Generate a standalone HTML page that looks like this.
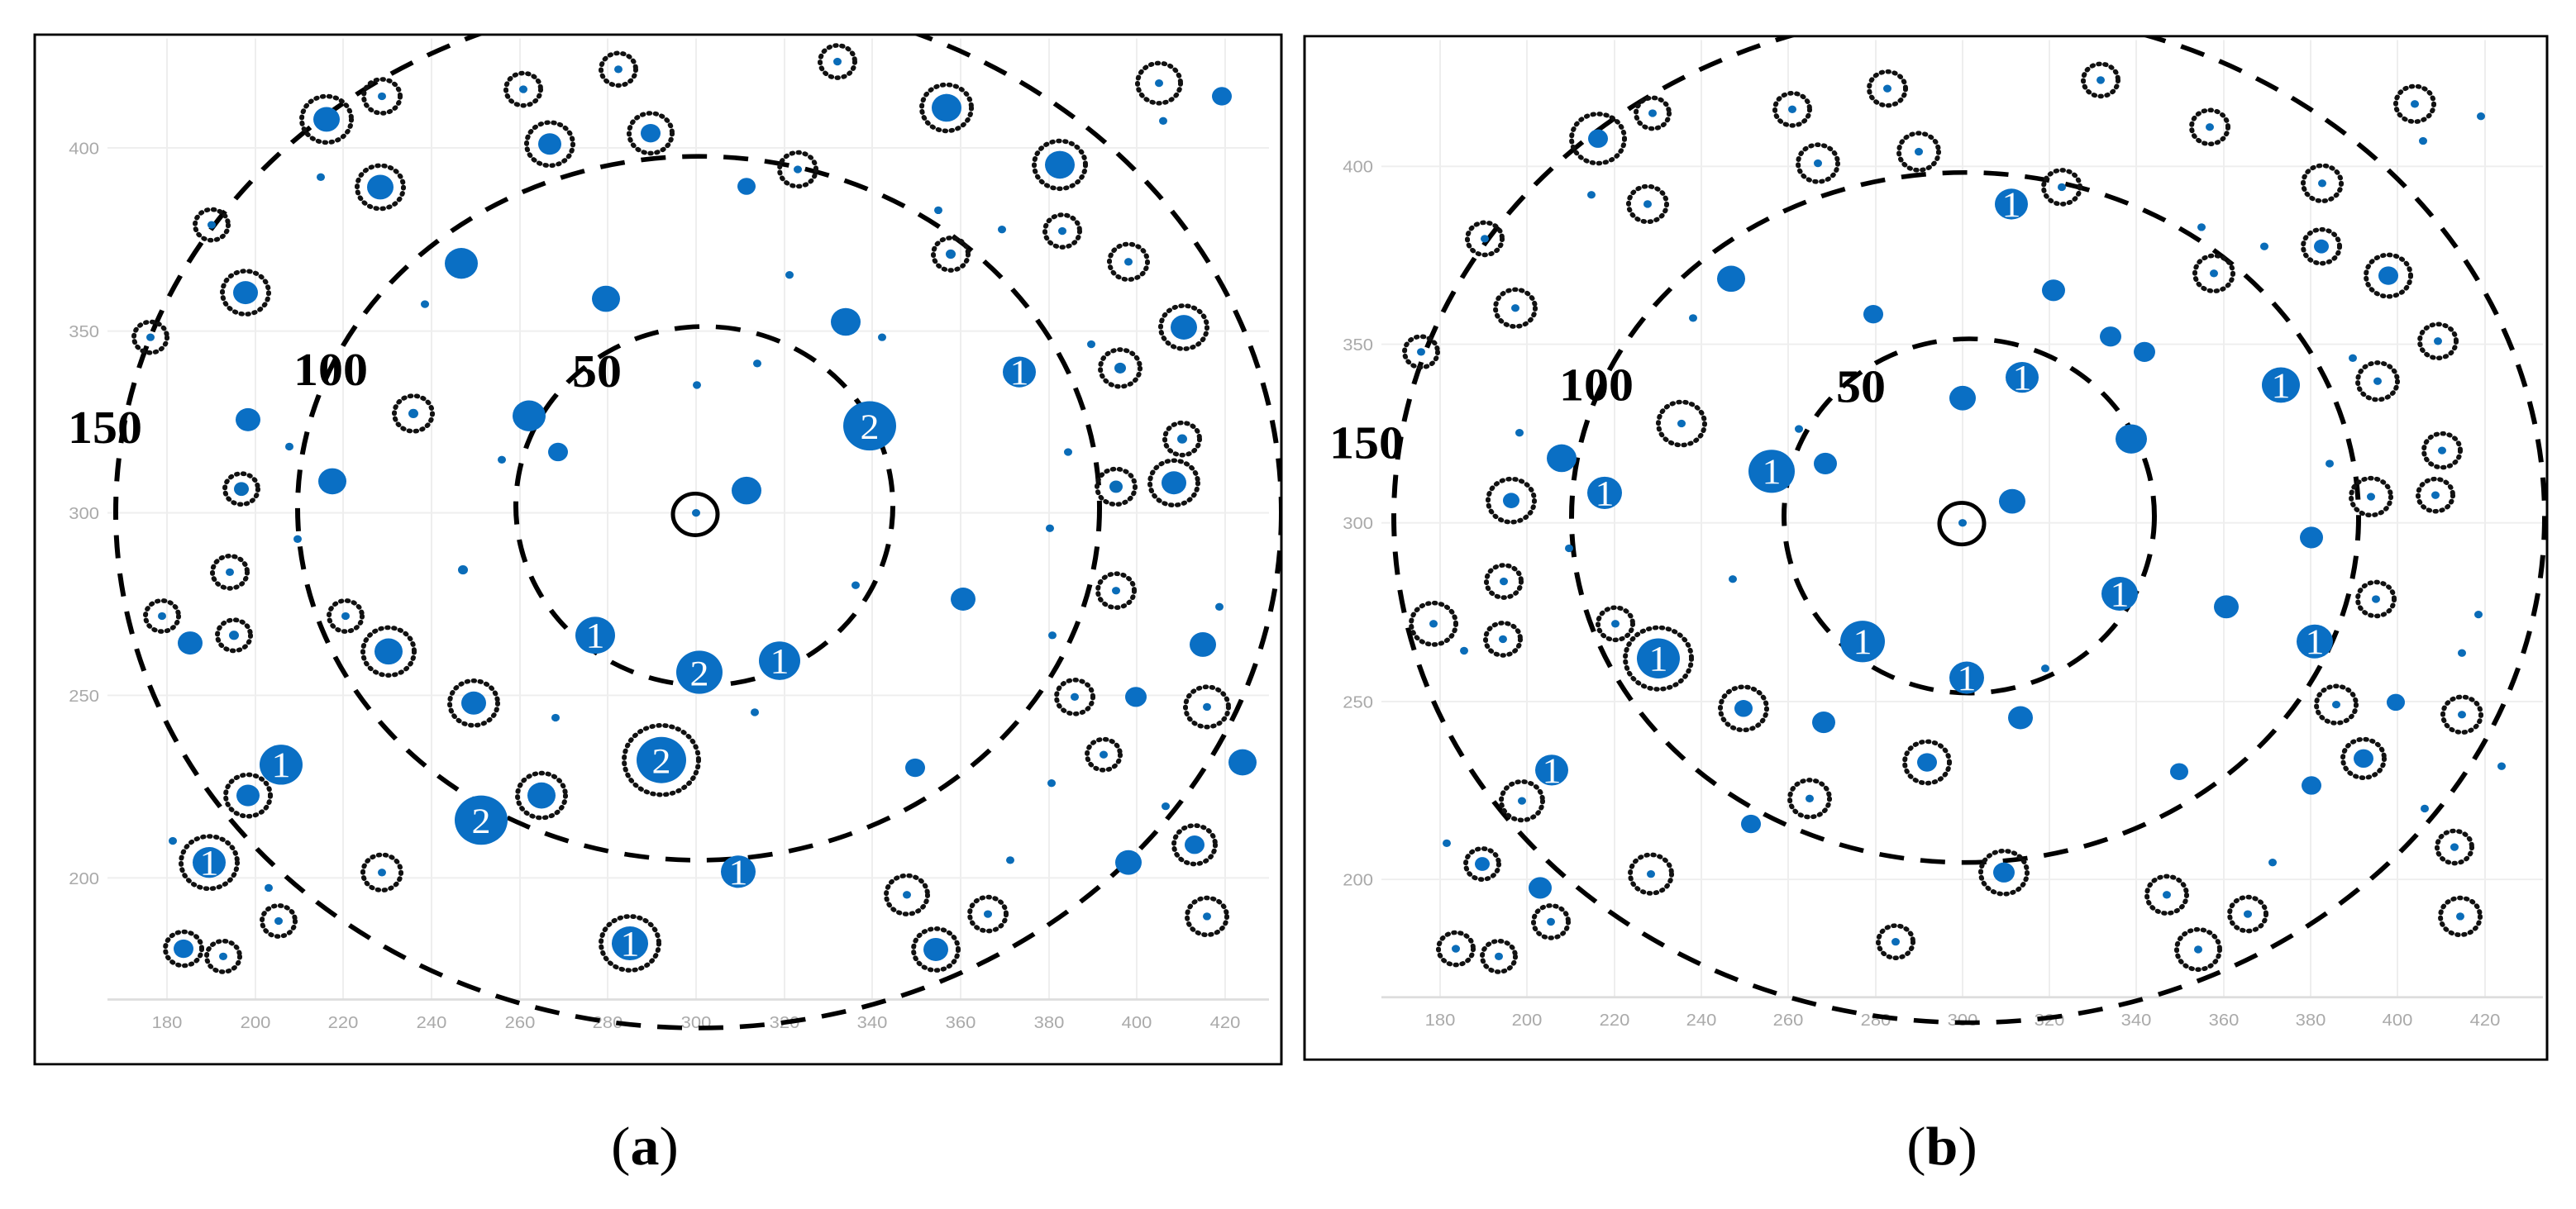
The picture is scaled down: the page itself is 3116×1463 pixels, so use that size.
<!DOCTYPE html>
<html><head><meta charset="utf-8"><style>
html,body{margin:0;padding:0;background:#fff;}
svg{position:absolute;top:0;}
.s{fill:#0a6cb8}
.m{fill:#0a6fc4}
.r{fill:none;stroke:#111;stroke-width:6;stroke-dasharray:1.5 6.5;stroke-linecap:round}
.dc{fill:none;stroke:#000;stroke-width:6;stroke-dasharray:30 20}
.n{font-family:"Liberation Serif",serif;font-size:46px;fill:#fff;text-anchor:middle}
.lab{font-family:"Liberation Serif",serif;font-weight:bold;font-size:60px;fill:#000}
.tk{font-family:"Liberation Sans",sans-serif;font-size:22px;fill:#aaa}
.g{stroke:#eee;stroke-width:2}
.cap{font-family:"Liberation Serif",serif;font-size:70px;fill:#000;text-anchor:middle}
</style></head><body>
<svg style="left:0" width="1560" height="1463" viewBox="0 0 1560 1570" preserveAspectRatio="none">
<defs><clipPath id="ca"><rect x="42" y="45" width="1508" height="1337"/></clipPath></defs>
<rect x="42" y="45" width="1508" height="1337" fill="#fff" stroke="#000" stroke-width="3"/>
<g class="g">
<line x1="202" y1="50" x2="202" y2="1298"/><line x1="309" y1="50" x2="309" y2="1298"/><line x1="415" y1="50" x2="415" y2="1298"/><line x1="522" y1="50" x2="522" y2="1298"/><line x1="629" y1="50" x2="629" y2="1298"/><line x1="735" y1="50" x2="735" y2="1298"/><line x1="842" y1="50" x2="842" y2="1298"/><line x1="949" y1="50" x2="949" y2="1298"/><line x1="1055" y1="50" x2="1055" y2="1298"/><line x1="1162" y1="50" x2="1162" y2="1298"/><line x1="1269" y1="50" x2="1269" y2="1298"/><line x1="1375" y1="50" x2="1375" y2="1298"/><line x1="1482" y1="50" x2="1482" y2="1298"/>
<line x1="130" y1="192" x2="1535" y2="192"/><line x1="130" y1="430" x2="1535" y2="430"/><line x1="130" y1="666" x2="1535" y2="666"/><line x1="130" y1="903" x2="1535" y2="903"/><line x1="130" y1="1140" x2="1535" y2="1140"/>
</g>
<line x1="130" y1="1298" x2="1535" y2="1298" stroke="#ddd" stroke-width="3"/>
<g class="tk" text-anchor="end"><text x="120" y="200">400</text><text x="120" y="438">350</text><text x="120" y="674">300</text><text x="120" y="911">250</text><text x="120" y="1148">200</text></g>
<g class="tk" text-anchor="middle"><text x="202" y="1335">180</text><text x="309" y="1335">200</text><text x="415" y="1335">220</text><text x="522" y="1335">240</text><text x="629" y="1335">260</text><text x="735" y="1335">280</text><text x="842" y="1335">300</text><text x="949" y="1335">320</text><text x="1055" y="1335">340</text><text x="1162" y="1335">360</text><text x="1269" y="1335">380</text><text x="1375" y="1335">400</text><text x="1482" y="1335">420</text></g>
<g clip-path="url(#ca)">
<ellipse class="dc" cx="852" cy="657" rx="228" ry="233"/>
<ellipse class="dc" cx="845" cy="660" rx="485" ry="457"/>
<ellipse class="dc" cx="845" cy="665" rx="705" ry="670"/>
</g>
<g>
<circle class="m" cx="395" cy="155" r="16"/><circle class="r" cx="395" cy="155" r="30"/>
<circle class="m" cx="460" cy="243" r="16"/><circle class="r" cx="460" cy="243" r="28"/>
<circle class="m" cx="297" cy="380" r="15"/><circle class="r" cx="297" cy="380" r="28"/>
<circle class="m" cx="665" cy="187" r="14"/><circle class="r" cx="665" cy="187" r="28"/>
<circle class="m" cx="787" cy="173" r="12"/><circle class="r" cx="787" cy="173" r="26"/>
<circle class="m" cx="1145" cy="140" r="18"/><circle class="r" cx="1145" cy="140" r="30"/>
<circle class="m" cx="1282" cy="214" r="18"/><circle class="r" cx="1282" cy="214" r="31"/>
<circle class="m" cx="1432" cy="425" r="16"/><circle class="r" cx="1432" cy="425" r="28"/>
<circle class="m" cx="1420" cy="627" r="15"/><circle class="r" cx="1420" cy="627" r="29"/>
<circle class="m" cx="470" cy="846" r="17"/><circle class="r" cx="470" cy="846" r="31"/>
<circle class="m" cx="573" cy="913" r="15"/><circle class="r" cx="573" cy="913" r="29"/>
<circle class="m" cx="655" cy="1033" r="17"/><circle class="r" cx="655" cy="1033" r="29"/>
<circle class="m" cx="300" cy="1033" r="14"/><circle class="r" cx="300" cy="1033" r="27"/>
<circle class="m" cx="1445" cy="1097" r="12"/><circle class="r" cx="1445" cy="1097" r="25"/>
<circle class="m" cx="1132" cy="1233" r="15"/><circle class="r" cx="1132" cy="1233" r="27"/>
<circle class="m" cx="222" cy="1232" r="12"/><circle class="r" cx="222" cy="1232" r="22"/>
</g>
<g>
<circle class="s" cx="462" cy="125" r="5"/><circle class="r" cx="462" cy="125" r="22"/>
<circle class="s" cx="633" cy="116" r="5"/><circle class="r" cx="633" cy="116" r="21"/>
<circle class="s" cx="748" cy="90" r="5"/><circle class="r" cx="748" cy="90" r="21"/>
<circle class="s" cx="1013" cy="80" r="5"/><circle class="r" cx="1013" cy="80" r="21"/>
<circle class="s" cx="1402" cy="108" r="5"/><circle class="r" cx="1402" cy="108" r="26"/>
<circle class="s" cx="256" cy="292" r="5"/><circle class="r" cx="256" cy="292" r="20"/>
<circle class="s" cx="182" cy="438" r="5"/><circle class="r" cx="182" cy="438" r="20"/>
<circle class="s" cx="965" cy="220" r="5"/><circle class="r" cx="965" cy="220" r="22"/>
<circle class="s" cx="1150" cy="330" r="6"/><circle class="r" cx="1150" cy="330" r="21"/>
<circle class="s" cx="1285" cy="300" r="5"/><circle class="r" cx="1285" cy="300" r="21"/>
<circle class="s" cx="1365" cy="340" r="5"/><circle class="r" cx="1365" cy="340" r="23"/>
<circle class="s" cx="1355" cy="478" r="7"/><circle class="r" cx="1355" cy="478" r="24"/>
<circle class="s" cx="1430" cy="570" r="6"/><circle class="r" cx="1430" cy="570" r="21"/>
<circle class="s" cx="1350" cy="632" r="8"/><circle class="r" cx="1350" cy="632" r="23"/>
<circle class="s" cx="500" cy="537" r="6"/><circle class="r" cx="500" cy="537" r="23"/>
<circle class="s" cx="292" cy="635" r="9"/><circle class="r" cx="292" cy="635" r="20"/>
<circle class="s" cx="278" cy="743" r="5"/><circle class="r" cx="278" cy="743" r="21"/>
<circle class="s" cx="196" cy="800" r="5"/><circle class="r" cx="196" cy="800" r="20"/>
<circle class="s" cx="418" cy="800" r="5"/><circle class="r" cx="418" cy="800" r="20"/>
<circle class="s" cx="283" cy="825" r="6"/><circle class="r" cx="283" cy="825" r="20"/>
<circle class="s" cx="1350" cy="767" r="5"/><circle class="r" cx="1350" cy="767" r="22"/>
<circle class="s" cx="1300" cy="905" r="5"/><circle class="r" cx="1300" cy="905" r="22"/>
<circle class="s" cx="1460" cy="918" r="5"/><circle class="r" cx="1460" cy="918" r="26"/>
<circle class="s" cx="1335" cy="980" r="5"/><circle class="r" cx="1335" cy="980" r="20"/>
<circle class="s" cx="462" cy="1133" r="5"/><circle class="r" cx="462" cy="1133" r="23"/>
<circle class="s" cx="337" cy="1196" r="5"/><circle class="r" cx="337" cy="1196" r="20"/>
<circle class="s" cx="1097" cy="1162" r="5"/><circle class="r" cx="1097" cy="1162" r="25"/>
<circle class="s" cx="1195" cy="1187" r="5"/><circle class="r" cx="1195" cy="1187" r="22"/>
<circle class="s" cx="1460" cy="1190" r="5"/><circle class="r" cx="1460" cy="1190" r="24"/>
<circle class="s" cx="270" cy="1242" r="5"/><circle class="r" cx="270" cy="1242" r="20"/>
</g>
<g class="m">
<circle cx="558" cy="342" r="20"/><circle cx="733" cy="388" r="17"/><circle cx="1023" cy="418" r="18"/><circle cx="300" cy="545" r="15"/><circle cx="402" cy="625" r="17"/><circle cx="640" cy="540" r="20"/><circle cx="675" cy="587" r="12"/><circle cx="903" cy="637" r="18"/><circle cx="1165" cy="778" r="15"/><circle cx="230" cy="835" r="15"/><circle cx="1455" cy="837" r="16"/><circle cx="1374" cy="905" r="13"/><circle cx="1107" cy="997" r="12"/><circle cx="1503" cy="990" r="17"/><circle cx="1365" cy="1120" r="16"/><circle cx="1478" cy="125" r="12"/><circle cx="903" cy="242" r="11"/>
</g>
<g class="s">
<circle cx="388" cy="230" r="5"/><circle cx="514" cy="395" r="5"/><circle cx="955" cy="357" r="5"/><circle cx="1067" cy="438" r="5"/><circle cx="1135" cy="273" r="5"/><circle cx="1212" cy="298" r="5"/><circle cx="1320" cy="447" r="5"/><circle cx="916" cy="472" r="5"/><circle cx="843" cy="500" r="5"/><circle cx="350" cy="580" r="5"/><circle cx="607" cy="597" r="5"/><circle cx="360" cy="700" r="5"/><circle cx="560" cy="740" r="6"/><circle cx="1292" cy="587" r="5"/><circle cx="1270" cy="686" r="5"/><circle cx="1035" cy="760" r="5"/><circle cx="1475" cy="788" r="5"/><circle cx="1273" cy="825" r="5"/><circle cx="672" cy="932" r="5"/><circle cx="913" cy="925" r="5"/><circle cx="1272" cy="1017" r="5"/><circle cx="1410" cy="1047" r="5"/><circle cx="1222" cy="1117" r="5"/><circle cx="325" cy="1153" r="5"/><circle cx="209" cy="1092" r="5"/><circle cx="1407" cy="157" r="5"/>
</g>
<circle class="m" cx="253" cy="1120" r="20"/><circle class="r" cx="253" cy="1120" r="34"/>
<circle class="m" cx="800" cy="987" r="30"/><circle class="r" cx="800" cy="987" r="45"/>
<circle class="m" cx="762" cy="1225" r="22"/><circle class="r" cx="762" cy="1225" r="35"/>
<g class="m">
<circle cx="1233" cy="483" r="20"/><circle cx="1052" cy="553" r="32"/><circle cx="720" cy="825" r="24"/><circle cx="846" cy="873" r="28"/><circle cx="943" cy="858" r="25"/><circle cx="340" cy="993" r="26"/><circle cx="582" cy="1065" r="32"/><circle cx="893" cy="1132" r="21"/>
</g>
<g class="n">
<text x="253" y="1136">1</text><text x="800" y="1004">2</text><text x="762" y="1241">1</text><text x="1233" y="499">1</text><text x="1052" y="570">2</text><text x="720" y="841">1</text><text x="846" y="890">2</text><text x="943" y="874">1</text><text x="340" y="1009">1</text><text x="582" y="1082">2</text><text x="893" y="1148">1</text>
</g>
<circle cx="841" cy="668" r="27" fill="none" stroke="#000" stroke-width="5"/><circle class="s" cx="842" cy="666" r="5"/>
<text class="lab" x="82" y="575">150</text><text class="lab" x="355" y="500">100</text><text class="lab" x="692" y="502">50</text>
<text class="cap" x="780" y="1512">(<tspan font-weight="bold">a</tspan>)</text>
</svg>

<svg style="left:1556px" width="1560" height="1463" viewBox="0 0 1560 1570" preserveAspectRatio="none">
<defs><clipPath id="cb"><rect x="22" y="47" width="1503" height="1329"/></clipPath></defs>
<rect x="22" y="47" width="1503" height="1329" fill="#fff" stroke="#000" stroke-width="3"/>
<g class="g">
<line x1="186" y1="52" x2="186" y2="1295"/><line x1="291" y1="52" x2="291" y2="1295"/><line x1="397" y1="52" x2="397" y2="1295"/><line x1="502" y1="52" x2="502" y2="1295"/><line x1="607" y1="52" x2="607" y2="1295"/><line x1="713" y1="52" x2="713" y2="1295"/><line x1="818" y1="52" x2="818" y2="1295"/><line x1="923" y1="52" x2="923" y2="1295"/><line x1="1028" y1="52" x2="1028" y2="1295"/><line x1="1134" y1="52" x2="1134" y2="1295"/><line x1="1239" y1="52" x2="1239" y2="1295"/><line x1="1344" y1="52" x2="1344" y2="1295"/><line x1="1450" y1="52" x2="1450" y2="1295"/>
<line x1="115" y1="216" x2="1520" y2="216"/><line x1="115" y1="447" x2="1520" y2="447"/><line x1="115" y1="679" x2="1520" y2="679"/><line x1="115" y1="911" x2="1520" y2="911"/><line x1="115" y1="1142" x2="1520" y2="1142"/>
</g>
<line x1="115" y1="1295" x2="1520" y2="1295" stroke="#ddd" stroke-width="3"/>
<g class="tk" text-anchor="end"><text x="105" y="224">400</text><text x="105" y="455">350</text><text x="105" y="687">300</text><text x="105" y="919">250</text><text x="105" y="1150">200</text></g>
<g class="tk" text-anchor="middle"><text x="186" y="1332">180</text><text x="291" y="1332">200</text><text x="397" y="1332">220</text><text x="502" y="1332">240</text><text x="607" y="1332">260</text><text x="713" y="1332">280</text><text x="818" y="1332">300</text><text x="923" y="1332">320</text><text x="1028" y="1332">340</text><text x="1134" y="1332">360</text><text x="1239" y="1332">380</text><text x="1344" y="1332">400</text><text x="1450" y="1332">420</text></g>
<g clip-path="url(#cb)">
<ellipse class="dc" cx="826" cy="670" rx="224" ry="230"/>
<ellipse class="dc" cx="821" cy="672" rx="476" ry="448"/>
<ellipse class="dc" cx="826" cy="671" rx="696" ry="657"/>
</g>
<g>
<circle class="m" cx="377" cy="180" r="12"/><circle class="r" cx="377" cy="180" r="32"/>
<circle class="m" cx="1333" cy="358" r="12"/><circle class="r" cx="1333" cy="358" r="27"/>
<circle class="m" cx="553" cy="920" r="11"/><circle class="r" cx="553" cy="920" r="28"/>
<circle class="m" cx="775" cy="990" r="12"/><circle class="r" cx="775" cy="990" r="27"/>
<circle class="m" cx="1303" cy="985" r="12"/><circle class="r" cx="1303" cy="985" r="25"/>
<circle class="m" cx="868" cy="1133" r="13"/><circle class="r" cx="868" cy="1133" r="28"/>
<circle class="m" cx="272" cy="650" r="10"/><circle class="r" cx="272" cy="650" r="28"/>
<circle class="m" cx="1252" cy="320" r="9"/><circle class="r" cx="1252" cy="320" r="22"/>
<circle class="m" cx="237" cy="1122" r="9"/><circle class="r" cx="237" cy="1122" r="20"/>
</g>
<g>
<circle class="s" cx="443" cy="147" r="5"/><circle class="r" cx="443" cy="147" r="20"/>
<circle class="s" cx="612" cy="142" r="5"/><circle class="r" cx="612" cy="142" r="21"/>
<circle class="s" cx="727" cy="115" r="5"/><circle class="r" cx="727" cy="115" r="22"/>
<circle class="s" cx="985" cy="104" r="5"/><circle class="r" cx="985" cy="104" r="21"/>
<circle class="s" cx="1365" cy="135" r="5"/><circle class="r" cx="1365" cy="135" r="23"/>
<circle class="s" cx="1117" cy="165" r="5"/><circle class="r" cx="1117" cy="165" r="22"/>
<circle class="s" cx="643" cy="212" r="5"/><circle class="r" cx="643" cy="212" r="24"/>
<circle class="s" cx="765" cy="197" r="5"/><circle class="r" cx="765" cy="197" r="24"/>
<circle class="s" cx="938" cy="243" r="5"/><circle class="r" cx="938" cy="243" r="22"/>
<circle class="s" cx="1253" cy="238" r="5"/><circle class="r" cx="1253" cy="238" r="23"/>
<circle class="s" cx="437" cy="265" r="5"/><circle class="r" cx="437" cy="265" r="23"/>
<circle class="s" cx="240" cy="310" r="5"/><circle class="r" cx="240" cy="310" r="21"/>
<circle class="s" cx="277" cy="400" r="5"/><circle class="r" cx="277" cy="400" r="24"/>
<circle class="s" cx="163" cy="457" r="5"/><circle class="r" cx="163" cy="457" r="20"/>
<circle class="s" cx="1122" cy="355" r="5"/><circle class="r" cx="1122" cy="355" r="23"/>
<circle class="s" cx="1393" cy="443" r="5"/><circle class="r" cx="1393" cy="443" r="22"/>
<circle class="s" cx="1320" cy="495" r="5"/><circle class="r" cx="1320" cy="495" r="24"/>
<circle class="s" cx="1398" cy="585" r="5"/><circle class="r" cx="1398" cy="585" r="22"/>
<circle class="s" cx="1312" cy="645" r="5"/><circle class="r" cx="1312" cy="645" r="24"/>
<circle class="s" cx="1390" cy="643" r="5"/><circle class="r" cx="1390" cy="643" r="21"/>
<circle class="s" cx="478" cy="550" r="5"/><circle class="r" cx="478" cy="550" r="28"/>
<circle class="s" cx="263" cy="755" r="5"/><circle class="r" cx="263" cy="755" r="21"/>
<circle class="s" cx="178" cy="810" r="5"/><circle class="r" cx="178" cy="810" r="27"/>
<circle class="s" cx="262" cy="830" r="5"/><circle class="r" cx="262" cy="830" r="21"/>
<circle class="s" cx="398" cy="810" r="5"/><circle class="r" cx="398" cy="810" r="21"/>
<circle class="s" cx="1318" cy="778" r="5"/><circle class="r" cx="1318" cy="778" r="22"/>
<circle class="s" cx="1270" cy="915" r="5"/><circle class="r" cx="1270" cy="915" r="24"/>
<circle class="s" cx="1422" cy="928" r="5"/><circle class="r" cx="1422" cy="928" r="23"/>
<circle class="s" cx="633" cy="1037" r="5"/><circle class="r" cx="633" cy="1037" r="24"/>
<circle class="s" cx="285" cy="1040" r="5"/><circle class="r" cx="285" cy="1040" r="25"/>
<circle class="s" cx="441" cy="1135" r="5"/><circle class="r" cx="441" cy="1135" r="25"/>
<circle class="s" cx="320" cy="1197" r="5"/><circle class="r" cx="320" cy="1197" r="21"/>
<circle class="s" cx="205" cy="1232" r="5"/><circle class="r" cx="205" cy="1232" r="21"/>
<circle class="s" cx="257" cy="1242" r="5"/><circle class="r" cx="257" cy="1242" r="20"/>
<circle class="s" cx="737" cy="1223" r="5"/><circle class="r" cx="737" cy="1223" r="21"/>
<circle class="s" cx="1065" cy="1162" r="5"/><circle class="r" cx="1065" cy="1162" r="24"/>
<circle class="s" cx="1163" cy="1187" r="5"/><circle class="r" cx="1163" cy="1187" r="22"/>
<circle class="s" cx="1103" cy="1233" r="5"/><circle class="r" cx="1103" cy="1233" r="26"/>
<circle class="s" cx="1413" cy="1100" r="5"/><circle class="r" cx="1413" cy="1100" r="21"/>
<circle class="s" cx="1420" cy="1190" r="5"/><circle class="r" cx="1420" cy="1190" r="24"/>
</g>
<g class="m">
<circle cx="538" cy="362" r="17"/><circle cx="710" cy="408" r="12"/><circle cx="928" cy="377" r="14"/><circle cx="997" cy="437" r="13"/><circle cx="1038" cy="457" r="13"/><circle cx="818" cy="517" r="16"/><circle cx="333" cy="595" r="18"/><circle cx="652" cy="602" r="14"/><circle cx="878" cy="651" r="16"/><circle cx="1240" cy="698" r="14"/><circle cx="1137" cy="788" r="15"/><circle cx="650" cy="938" r="14"/><circle cx="888" cy="932" r="15"/><circle cx="1342" cy="912" r="11"/><circle cx="1080" cy="1002" r="11"/><circle cx="1240" cy="1020" r="12"/><circle cx="562" cy="1070" r="12"/><circle cx="307" cy="1153" r="14"/><circle cx="1022" cy="570" r="19"/>
</g>
<g class="s">
<circle cx="1445" cy="151" r="5"/><circle cx="1375" cy="183" r="5"/><circle cx="369" cy="253" r="5"/><circle cx="492" cy="413" r="5"/><circle cx="1107" cy="295" r="5"/><circle cx="1183" cy="320" r="5"/><circle cx="1290" cy="465" r="5"/><circle cx="282" cy="562" r="5"/><circle cx="620" cy="557" r="5"/><circle cx="1262" cy="602" r="5"/><circle cx="342" cy="712" r="5"/><circle cx="540" cy="752" r="5"/><circle cx="918" cy="868" r="5"/><circle cx="1442" cy="798" r="5"/><circle cx="1422" cy="848" r="5"/><circle cx="215" cy="845" r="5"/><circle cx="194" cy="1095" r="5"/><circle cx="1377" cy="1050" r="5"/><circle cx="1193" cy="1120" r="5"/><circle cx="1470" cy="995" r="5"/>
</g>
<circle class="m" cx="450" cy="855" r="26"/><circle class="r" cx="450" cy="855" r="40"/>
<g class="m">
<circle cx="877" cy="265" r="20"/><circle cx="890" cy="490" r="20"/><circle cx="1203" cy="500" r="23"/><circle cx="587" cy="612" r="28"/><circle cx="385" cy="640" r="21"/><circle cx="1008" cy="771" r="22"/><circle cx="697" cy="833" r="27"/><circle cx="1244" cy="833" r="22"/><circle cx="823" cy="880" r="21"/><circle cx="321" cy="1000" r="20"/>
</g>
<g class="n">
<text x="450" y="871">1</text><text x="877" y="281">1</text><text x="890" y="506">1</text><text x="1203" y="516">1</text><text x="587" y="628">1</text><text x="385" y="656">1</text><text x="1008" y="787">1</text><text x="697" y="849">1</text><text x="1244" y="849">1</text><text x="823" y="896">1</text><text x="321" y="1016">1</text>
</g>
<circle cx="817" cy="680" r="27" fill="none" stroke="#000" stroke-width="5"/><circle class="s" cx="818" cy="679" r="5"/>
<text class="lab" x="52" y="595">150</text><text class="lab" x="330" y="520">100</text><text class="lab" x="665" y="522">50</text>
<text class="cap" x="793" y="1512">(<tspan font-weight="bold">b</tspan>)</text>
</svg>
</body></html>
